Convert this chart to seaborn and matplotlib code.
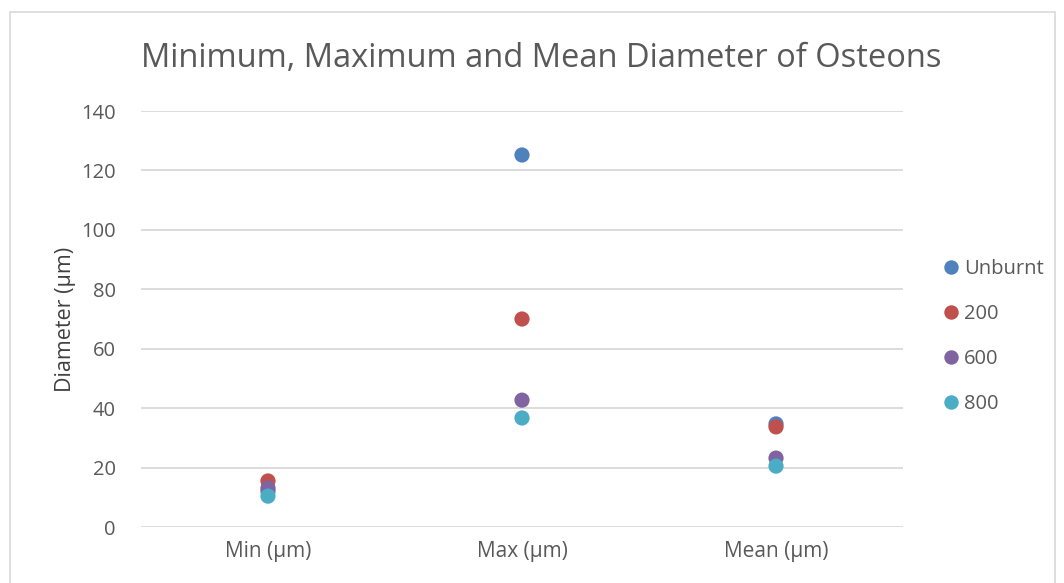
import pandas as pd
import matplotlib.pyplot as plt
import seaborn as sns
from matplotlib.patches import Rectangle

# Values
measures = ['Min (µm)', 'Max (µm)', 'Mean (µm)']
groups = ['Unburnt', '200', '600', '800']
unburnt = [12.0, 125.2, 34.7]
t200 = [15.5, 70.0, 33.7]
t600 = [13.1, 42.7, 23.2]
t800 = [10.4, 36.7, 20.5]
colors = ['#4F81BD', '#C0504D', '#8064A2', '#4BACC6']

rows = []
for g, vals in zip(groups, [unburnt, t200, t600, t800]):
    for m, v in zip(measures, vals):
        rows.append({'Measure': m, 'Group': g, 'Diameter': v})
df = pd.DataFrame(rows)

sns.set_style('white')
plt.rcParams['font.family'] = ['Open Sans', 'DejaVu Sans']

fig = plt.figure(figsize=(10.64, 5.83), dpi=100)
ax = fig.add_axes([0.1325, 0.096, 0.7162, 0.7136])

sns.scatterplot(data=df, x='Measure', y='Diameter', hue='Group',
                hue_order=groups, palette=colors, s=120, linewidth=0,
                ax=ax, legend=True, zorder=3)

ax.set_xlim(-0.5, 2.5)
ax.set_ylim(0, 140)
ax.set_yticks(range(0, 141, 20))
ax.yaxis.grid(True, color='#d9d9d9', linewidth=1.3)
ax.set_axisbelow(True)
for s in ax.spines.values():
    s.set_visible(False)
ax.tick_params(axis='y', length=0, labelsize=14.5, colors='#595959', pad=18)
ax.tick_params(axis='x', length=0, labelsize=15, colors='#595959', pad=10)
ax.set_xlabel('')
ax.set_ylabel('Diameter (µm)', fontsize=15.5, color='#404040', labelpad=4)
ax.set_title('Minimum, Maximum and Mean Diameter of Osteons',
             fontsize=23.5, color='#595959', x=0.525, y=1.085)

handles, labels = ax.get_legend_handles_labels()
ax.legend_.remove()
fig.legend(handles, labels, loc='upper left', bbox_to_anchor=(0.858, 0.586),
           frameon=False, fontsize=14.5, labelcolor='#595959',
           handletextpad=-0.35, labelspacing=1.24, markerscale=0.95)

fig.patches.append(Rectangle((10 / 1064, -0.01), 1045 / 1064, 0.99,
                             transform=fig.transFigure, fill=False,
                             edgecolor='#d9d9d9', linewidth=1.2))

fig.savefig('out.png', dpi=100)
